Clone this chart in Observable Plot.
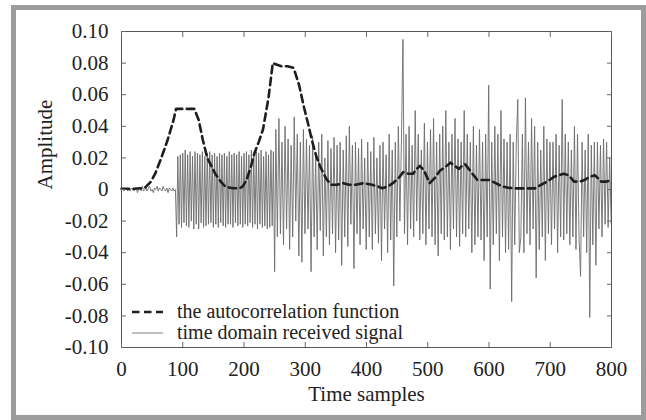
<!DOCTYPE html>
<html>
<head>
<meta charset="utf-8">
<script src="https://cdn.jsdelivr.net/npm/d3@7"></script>
<script src="https://cdn.jsdelivr.net/npm/@observablehq/plot@0.6"></script>
<style>
  html, body { margin: 0; padding: 0; background: #fff; }
  #wrap { position: relative; width: 646px; height: 420px; overflow: hidden; background: #fff; }
  #outer { position: absolute; left: 11px; top: 5px; width: 635px; height: 415px; box-sizing: border-box; border: 5px solid #9c9c9c; pointer-events: none; }
  #chart { position: absolute; left: 0; top: 0; }
  #legend { position: absolute; left: 132px; top: 301px; font-family: "Liberation Serif", "DejaVu Serif", serif; font-size: 20px; color: #222; line-height: 21px; }
  #legend .row { display: flex; align-items: center; height: 21px; }
  #legend svg { margin-right: 14px; }
</style>
</head>
<body>
<div id="wrap">
  <div id="chart"></div>
  <div id="outer"></div>
  <div id="legend"></div>
</div>
<script>
// ---- data ----
const xTicks = [0, 100, 200, 300, 400, 500, 600, 700, 800];
const yTicks = [-0.10, -0.08, -0.06, -0.04, -0.02, 0, 0.02, 0.04, 0.06, 0.08, 0.10];
const seriesNames = ["the autocorrelation function", "time domain received signal"];

// autocorrelation function (dashed)
const autoX = [0, 20, 38, 48, 55, 65, 75, 85, 89, 100, 119, 126, 133, 140, 153, 162, 170, 182, 193, 198,
  204, 211, 217, 224, 231, 240, 247, 254, 261, 271, 281, 290, 298, 305, 311, 318, 325, 334, 342, 352,
  362, 372, 382, 395, 409, 418, 426, 435, 443, 452, 460, 468, 476, 482, 487, 494, 503, 511, 520, 528,
  537, 544, 551, 556, 561, 571, 581, 591, 601, 611, 621, 633, 645, 660, 675, 685, 695, 706, 714, 722,
  730, 739, 748, 756, 764, 773, 778, 783, 792, 800];
const autoY = [0.0005, 0.0005, 0.001, 0.005, 0.010, 0.020, 0.031, 0.044, 0.051, 0.051, 0.051, 0.044, 0.031, 0.020, 0.010, 0.005, 0.0017, 0.0008, 0.0008, 0.002,
  0.006, 0.014, 0.023, 0.030, 0.038, 0.058, 0.080, 0.079, 0.078, 0.078, 0.077, 0.066, 0.052, 0.041, 0.031, 0.021, 0.014, 0.007, 0.003, 0.003,
  0.004, 0.003, 0.003, 0.004, 0.003, 0.002, 0.0008, 0.002, 0.004, 0.007, 0.011, 0.010, 0.010, 0.013, 0.015, 0.012, 0.004, 0.007, 0.012, 0.014,
  0.017, 0.015, 0.013, 0.015, 0.016, 0.011, 0.006, 0.006, 0.006, 0.004, 0.002, 0.001, 0.0007, 0.0007, 0.0007, 0.003, 0.005, 0.008, 0.009, 0.010,
  0.009, 0.005, 0.005, 0.006, 0.008, 0.009, 0.007, 0.005, 0.005, 0.006];

// received signal, segment A: samples 0..88 (every 2nd sample), near-silent noise
const sigAStart = 0, sigAStep = 2;
const sigA = [0.000, 0.001, -0.001, 0.000, 0.001, -0.001, 0.000, -0.001, 0.001, 0.000, -0.001, 0.000, 0.001, -0.002, 0.000,
  0.001, -0.001, 0.002, -0.001, 0.000, 0.001, -0.001, 0.001, 0.002, -0.001, 0.000, -0.002, 0.001, 0.000, 0.002,
  -0.001, 0.001, 0.000, -0.001, 0.002, 0.000, -0.001, 0.001, -0.002, 0.001, 0.000, -0.001, 0.001, -0.001, 0.000];

// segment B: samples 90..250 (every 2nd sample), regular oscillation
const sigBStart = 90, sigBStep = 2;
const sigB = [-0.030, 0.021, -0.022, 0.022, -0.024, 0.023, -0.021, 0.025, -0.023, 0.022,
  -0.024, 0.024, -0.020, 0.021, -0.025, 0.024, -0.022, 0.023, -0.025, 0.022,
  -0.021, 0.024, -0.024, 0.021, -0.023, 0.023, -0.022, 0.024, -0.021, 0.022,
  -0.024, 0.023, -0.022, 0.021, -0.024, 0.023, -0.021, 0.022, -0.023, 0.023,
  -0.024, 0.021, -0.022, 0.024, -0.022, 0.022, -0.024, 0.023, -0.021, 0.022,
  -0.023, 0.024, -0.022, 0.021, -0.024, 0.023, -0.022, 0.024, -0.023, 0.022,
  -0.021, 0.025, -0.024, 0.022, -0.022, 0.024, -0.025, 0.023, -0.022, 0.025,
  -0.024, 0.021, -0.023, 0.024, -0.025, 0.022, -0.024, 0.025, -0.023, 0.024,
  -0.052];

// segment C: samples 252..799.5 (every 2.5 samples), irregular multipath part
const sigCStart = 252, sigCStep = 2.5;
const sigC = [
  0.038, -0.030, 0.045, -0.028, 0.030, -0.035, 0.040, -0.025, 0.032, -0.038, 0.028, -0.030, 0.046, -0.020, 0.035, -0.042, 0.030, -0.046, 0.038, -0.028,
  0.032, -0.025, 0.028, -0.052, 0.034, -0.030, 0.022, -0.038, 0.030, -0.026, 0.035, -0.042, 0.020, -0.030, 0.031, -0.035, 0.026, -0.028, 0.033, -0.040,
  0.028, -0.032, 0.030, -0.048, 0.025, -0.030, 0.034, -0.036, 0.040, -0.022, 0.028, -0.050, 0.030, -0.028, 0.026, -0.035, 0.032, -0.025, 0.020, -0.038,
  0.030, -0.030, 0.024, -0.038, 0.033, -0.028, 0.020, -0.034, 0.028, -0.045, 0.030, -0.025, 0.022, -0.040, 0.035, -0.032, 0.025, -0.061, 0.030, -0.030,
  0.040, -0.020, 0.030, 0.095, -0.028, 0.035, -0.035, 0.040, -0.025, 0.028, -0.030, 0.050, -0.020, 0.035, -0.032, 0.025, -0.028, 0.042, -0.035, 0.030,
  -0.025, 0.038, -0.030, 0.045, -0.035, 0.030, -0.042, 0.035, -0.028, 0.040, -0.032, 0.050, -0.030, 0.030, -0.038, 0.035, -0.025, 0.045, -0.030, 0.032,
  -0.036, 0.030, -0.028, 0.050, -0.030, 0.035, -0.025, 0.030, -0.040, 0.040, -0.035, 0.028, -0.030, 0.038, -0.032, 0.030, -0.045, 0.035, -0.030, 0.066,
  -0.063, 0.030, -0.035, 0.040, -0.028, 0.035, -0.045, 0.050, -0.030, 0.032, -0.040, 0.030, -0.038, 0.035, -0.071, 0.030, -0.035, 0.028, 0.057, -0.040,
  -0.030, 0.035, -0.040, 0.058, -0.028, 0.030, -0.035, 0.045, -0.025, 0.040, -0.056, 0.030, -0.038, 0.025, -0.030, 0.040, -0.045, 0.032, -0.028, 0.030,
  -0.035, 0.030, -0.025, 0.035, -0.040, 0.028, -0.030, 0.057, -0.032, 0.035, -0.028, 0.030, -0.035, 0.025, -0.030, 0.040, -0.038, 0.035, -0.030, -0.055,
  0.030, -0.030, 0.025, -0.040, 0.035, -0.081, 0.028, -0.035, 0.030, -0.048, 0.030, -0.025, 0.028, -0.030, 0.032, -0.022, 0.030, -0.024, 0.020, -0.022];

// ---- build tables ----
const autoData = autoX.map((x, i) => ({x, y: autoY[i]}));
const sigData = [
  ...sigA.map((y, i) => ({x: sigAStart + i * sigAStep, y})),
  ...sigB.map((y, i) => ({x: sigBStart + i * sigBStep, y})),
  ...sigC.map((y, i) => ({x: sigCStart + i * sigCStep, y}))
];

const fmtY = d => Math.abs(d) < 1e-9 ? "0" : d.toFixed(2);
const font = "'Liberation Serif', 'DejaVu Serif', serif";

const chart = Plot.plot({
  width: 646,
  height: 420,
  marginLeft: 121,
  marginRight: 35,
  marginTop: 31,
  marginBottom: 73,
  style: {fontFamily: font, fontSize: "21px", color: "#222", background: "transparent"},
  x: {domain: [0, 800]},
  y: {domain: [-0.1, 0.1]},
  marks: [
    Plot.line(sigData, {x: "x", y: "y", stroke: "#6c6c6c", strokeWidth: 0.9}),
    Plot.line(autoData, {x: "x", y: "y", stroke: "#1e1e1e", strokeWidth: 2.6, strokeDasharray: "7.5,4.5"}),
    Plot.frame({stroke: "#555", strokeWidth: 1}),
    Plot.axisX({anchor: "bottom", ticks: xTicks, tickSize: -5, tickPadding: 19, tickFormat: d => String(d), label: null, stroke: "#666", fill: "#222"}),
    Plot.axisX({anchor: "top", ticks: xTicks, tickSize: -5, tickFormat: () => "", label: null, stroke: "#666"}),
    Plot.axisY({anchor: "left", ticks: yTicks, tickSize: -5, tickPadding: 18, tickFormat: fmtY, label: null, stroke: "#666", fill: "#222"}),
    Plot.axisY({anchor: "right", ticks: yTicks, tickSize: -5, tickFormat: () => "", label: null, stroke: "#666"}),
    Plot.text(["Time samples"], {frameAnchor: "bottom", dy: 53, fontSize: 21, fill: "#222"}),
    Plot.text(["Amplitude"], {frameAnchor: "left", dx: -76, rotate: -90, fontSize: 21, fill: "#222"})
  ]
});
document.getElementById("chart").appendChild(chart);

// legend
const legend = document.getElementById("legend");
const swatches = [
  {stroke: "#1e1e1e", width: 2.6, dash: "7.5,4.5"},
  {stroke: "#808080", width: 1, dash: null}
];
seriesNames.forEach((name, i) => {
  const row = document.createElement("div");
  row.className = "row";
  const s = swatches[i];
  row.innerHTML = `<svg width="31" height="10"><line x1="0" y1="5" x2="31" y2="5" stroke="${s.stroke}" stroke-width="${s.width}" ${s.dash ? `stroke-dasharray="${s.dash}"` : ""}/></svg><span>${name}</span>`;
  legend.appendChild(row);
});
</script>
</body>
</html>
